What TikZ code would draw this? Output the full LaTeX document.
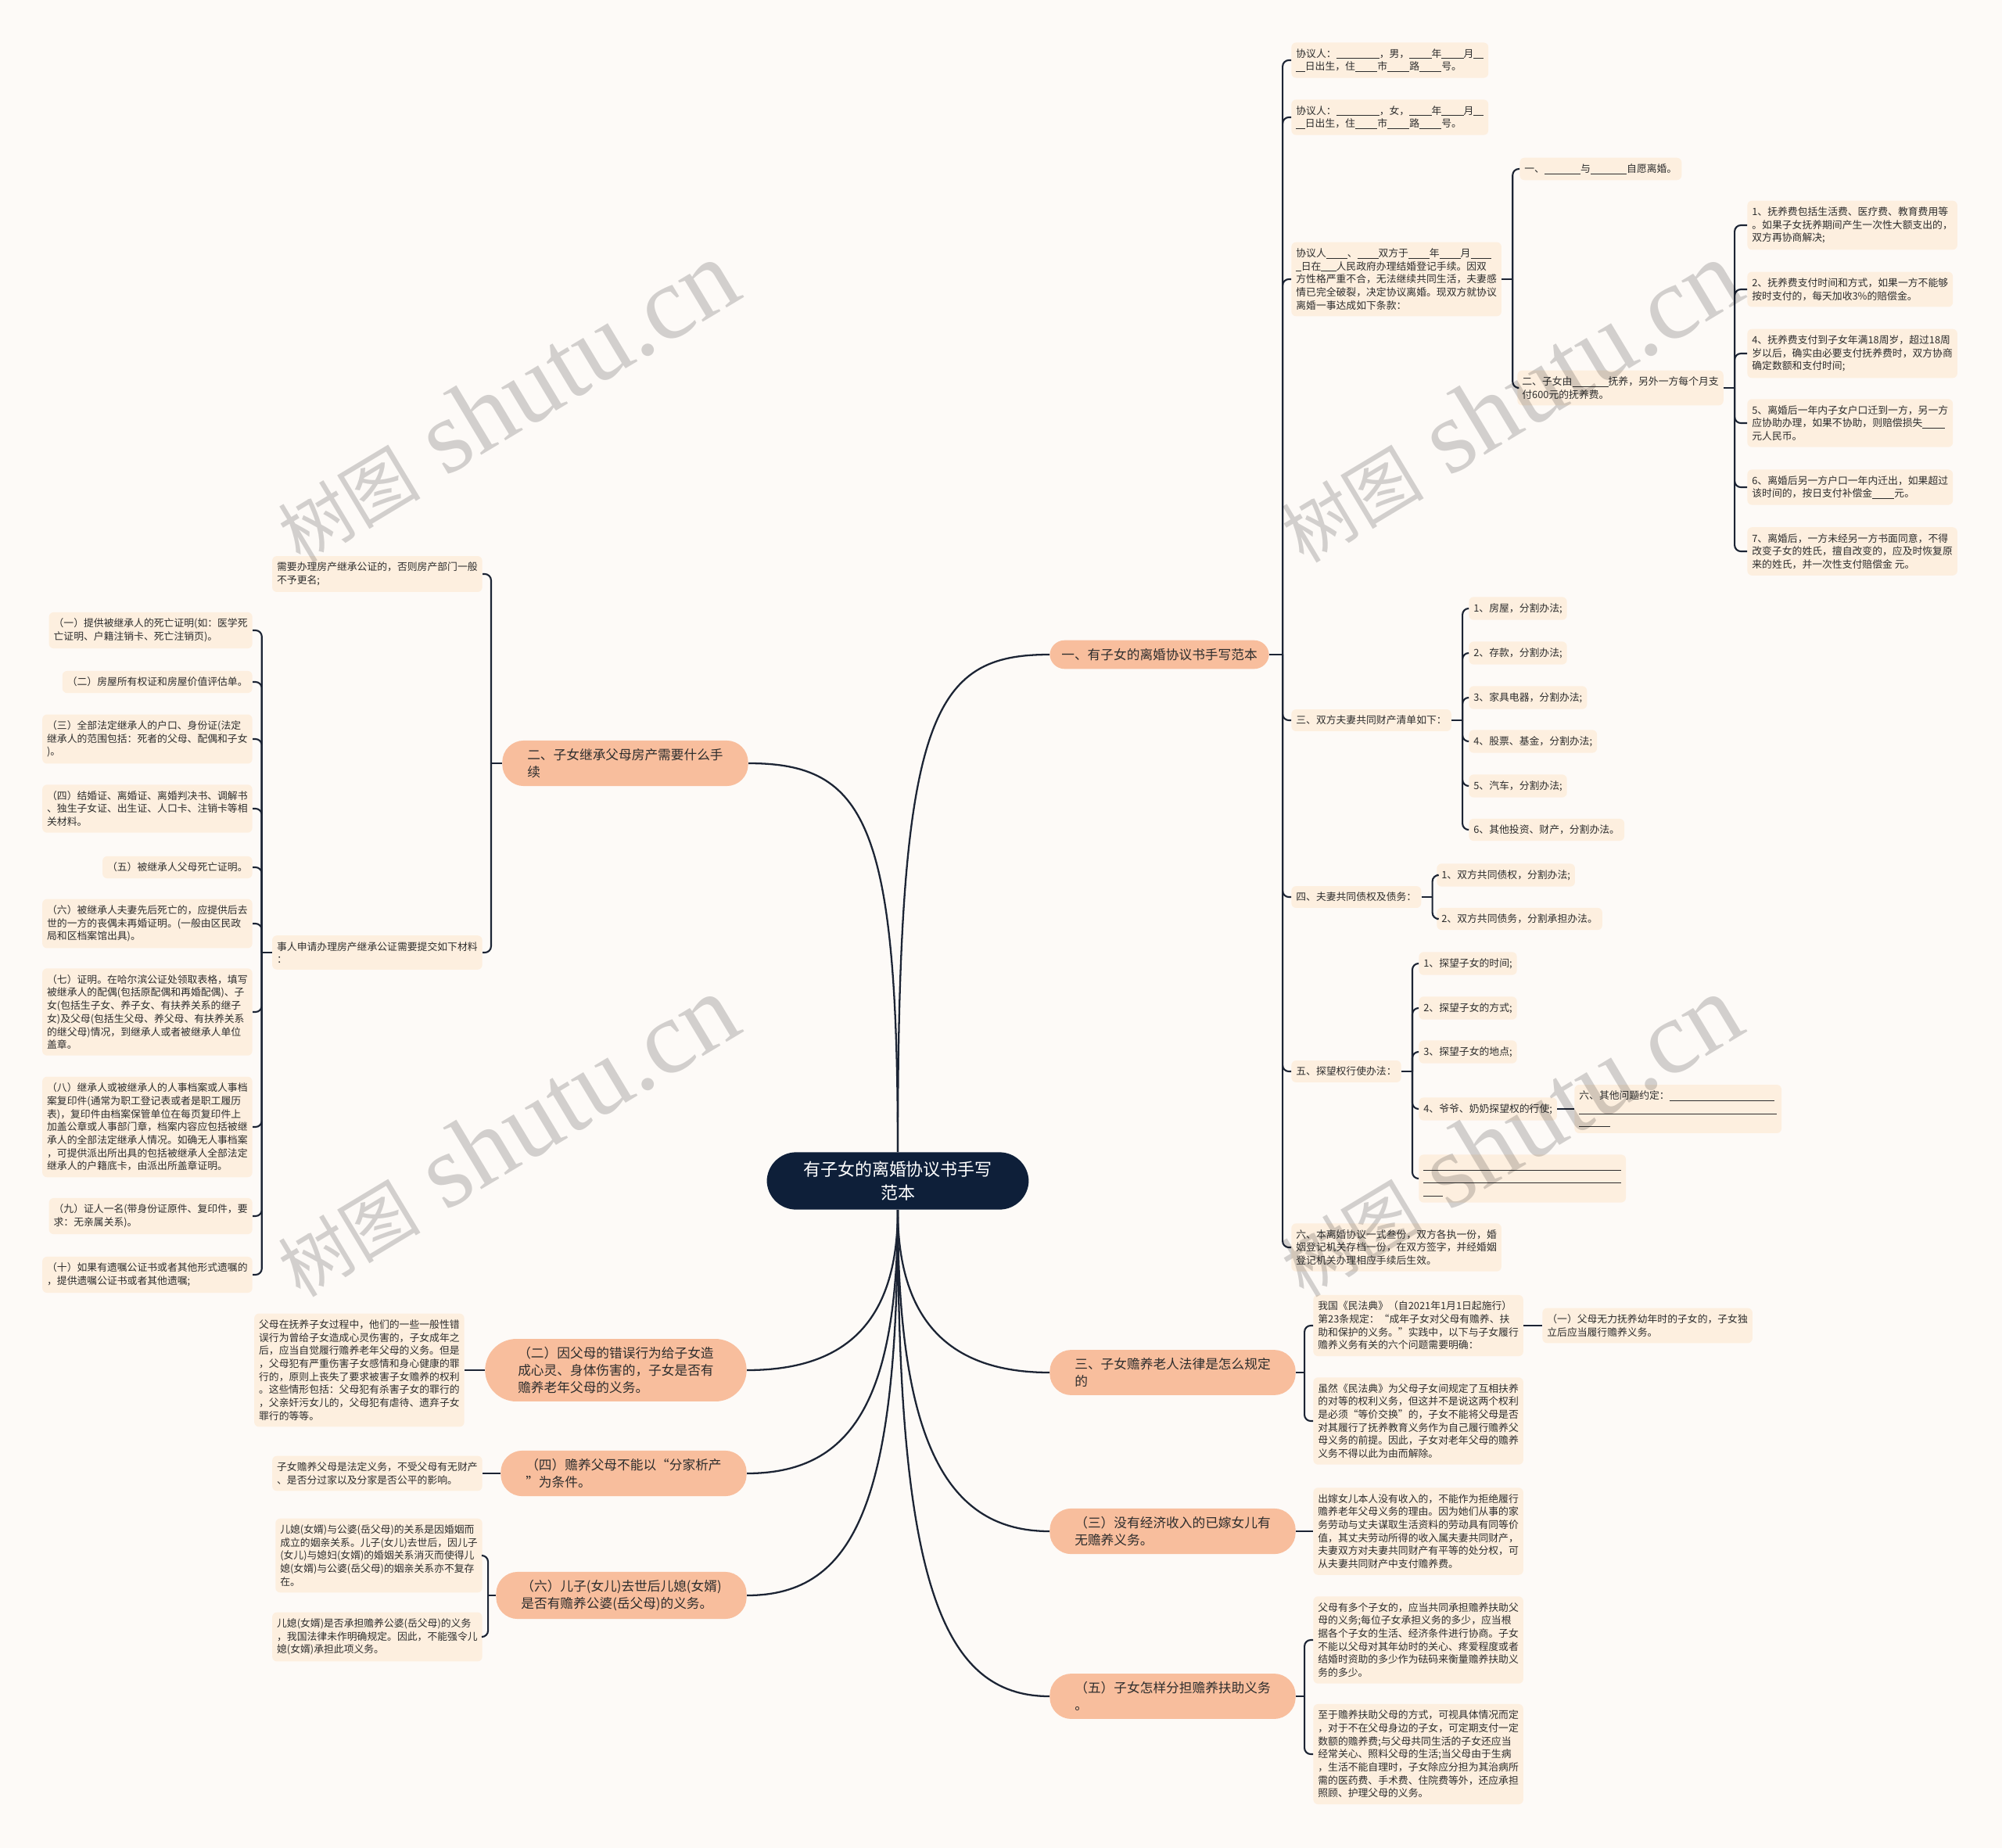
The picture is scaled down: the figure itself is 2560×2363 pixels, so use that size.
\documentclass[tikz,border=0pt]{standalone}
\usepackage{fontspec}
\newfontfamily\cjk{Noto Sans CJK SC}
\newfontfamily\wmserif{Liberation Serif}
\definecolor{bgpaper}{RGB}{253,250,247}
\definecolor{leafpeach}{RGB}{253,239,223}
\definecolor{branchsalmon}{RGB}{248,190,157}
\definecolor{rootnavy}{RGB}{14,31,57}
\definecolor{lineink}{RGB}{28,36,52}
\definecolor{leaftext}{RGB}{45,45,45}
\newcommand\leaffont{\cjk\fontsize{7.3pt}{9.5pt}\selectfont}
\newcommand\branchfont{\cjk\fontsize{9.5pt}{12.3pt}\selectfont}
\newcommand\rootfont{\cjk\fontsize{12.5pt}{17pt}\selectfont}
\newcommand\blank[1]{\vphantom{国}\rule[-0.13em]{#1em}{0.05em}}

\tikzset{
  root/.style={fill=rootnavy, text=white, rounded corners=0.75cm, minimum width=6.7cm,
    inner ysep=0.23cm, align=center, font=\rootfont},
  branch/.style={fill=branchsalmon, text=leaftext, rounded corners=0.55cm, inner xsep=0.64cm,
    inner ysep=0.21cm, align=left, font=\branchfont},
  leaf/.style={fill=leafpeach, text=leaftext, rounded corners=0.12cm, inner xsep=0.12cm,
    inner ysep=0.16cm, align=left, font=\leaffont},
  trunk/.style={draw=lineink, line width=1.3pt},
  link/.style={draw=lineink, line width=1.2pt, rounded corners=0.16cm},
  wmark/.style={text=black, text opacity=0.17, inner sep=0pt}
}

\begin{document}
\begin{tikzpicture}[x=0.02cm,y=-0.02cm]
  \useasboundingbox (0,0) rectangle (2560,2363);
  \fill[bgpaper] (0,0) rectangle (2560,2363);

  \node[root] (root) at (1148,1510) {有子女的离婚协议书手写\\范本};

  \node[branch, anchor=west, inner xsep=0.3cm, rounded corners=0.38cm] (b1) at (1342,837) {一、有子女的离婚协议书手写范本};
  \node[branch, anchor=west] (b3) at (1342,1755) {三、子女赡养老人法律是怎么规定\\的};
  \node[branch, anchor=west] (b3b) at (1342,1958) {（三）没有经济收入的已嫁女儿有\\无赡养义务。};
  \node[branch, anchor=west] (b5) at (1342,2169) {（五）子女怎样分担赡养扶助义务\\。};
  \node[branch, anchor=east] (b2) at (957,976) {二、子女继承父母房产需要什么手\\续};
  \node[branch, anchor=east, inner xsep=0.84cm, rounded corners=0.8cm] (b2b) at (955,1752) {（二）因父母的错误行为给子女造\\成心灵、身体伤害的，子女是否有\\赡养老年父母的义务。};
  \node[branch, anchor=east] (b4b) at (955,1884) {（四）赡养父母不能以“分家析产\\”为条件。};
  \node[branch, anchor=east] (b6) at (955,2040) {（六）儿子(女儿)去世后儿媳(女婿)\\是否有赡养公婆(岳父母)的义务。};

  \node[leaf, anchor=west] (c1) at (1651,77) {协议人：\blank{4.3}，男，\blank{2.2}年\blank{2.2}月\blank{1}\\\blank{0.9}日出生，住\blank{2.2}市\blank{2.2}路\blank{2.2}号。};
  \node[leaf, anchor=west] (c2) at (1651,150) {协议人：\blank{4.3}，女，\blank{2.2}年\blank{2.2}月\blank{1}\\\blank{0.9}日出生，住\blank{2.2}市\blank{2.2}路\blank{2.2}号。};
  \node[leaf, anchor=west] (c3) at (1651,357) {协议人\blank{2.1}、\blank{2.1}双方于\blank{2.1}年\blank{2.1}月\blank{2.1}\\\blank{0.5}日在\blank{1.5}人民政府办理结婚登记手续。因双\\方性格严重不合，无法继续共同生活，夫妻感\\情已完全破裂，决定协议离婚。现双方就协议\\离婚一事达成如下条款：};
  \node[leaf, anchor=west] (c3a) at (1943,216) {一、\blank{3.6}与\blank{3.6}自愿离婚。};
  \node[leaf, anchor=west] (c3b) at (1940,496) {二、子女由\blank{3.6}抚养，另外一方每个月支\\付600元的抚养费。};
  \node[leaf, anchor=west] (d1) at (2234,288) {1、抚养费包括生活费、医疗费、教育费用等\\。如果子女抚养期间产生一次性大额支出的，\\双方再协商解决;};
  \node[leaf, anchor=west] (d2) at (2234,370) {2、抚养费支付时间和方式，如果一方不能够\\按时支付的，每天加收3\%的赔偿金。};
  \node[leaf, anchor=west] (d3) at (2234,452) {4、抚养费支付到子女年满18周岁，超过18周\\岁以后，确实由必要支付抚养费时，双方协商\\确定数额和支付时间;};
  \node[leaf, anchor=west] (d4) at (2234,541) {5、离婚后一年内子女户口迁到一方，另一方\\应协助办理，如果不协助，则赔偿损失\blank{2.2}\\元人民币。};
  \node[leaf, anchor=west] (d5) at (2234,623) {6、离婚后另一方户口一年内迁出，如果超过\\该时间的，按日支付补偿金\blank{2.2}元。};
  \node[leaf, anchor=west] (d6) at (2234,705) {7、离婚后，一方未经另一方书面同意，不得\\改变子女的姓氏，擅自改变的，应及时恢复原\\来的姓氏，并一次性支付赔偿金 元。};
  \node[leaf, anchor=west] (c4) at (1651,921) {三、双方夫妻共同财产清单如下：};
  \node[leaf, anchor=west] (e1) at (1878,778) {1、房屋，分割办法;};
  \node[leaf, anchor=west] (e2) at (1878,835) {2、存款，分割办法;};
  \node[leaf, anchor=west] (e3) at (1878,892) {3、家具电器，分割办法;};
  \node[leaf, anchor=west] (e4) at (1878,948) {4、股票、基金，分割办法;};
  \node[leaf, anchor=west] (e5) at (1878,1005) {5、汽车，分割办法;};
  \node[leaf, anchor=west] (e6) at (1878,1061) {6、其他投资、财产，分割办法。};
  \node[leaf, anchor=west] (c5) at (1651,1147) {四、夫妻共同债权及债务：};
  \node[leaf, anchor=west] (f1) at (1837,1119) {1、双方共同债权，分割办法;};
  \node[leaf, anchor=west] (f2) at (1837,1175) {2、双方共同债务，分割承担办法。};
  \node[leaf, anchor=west] (c6) at (1651,1370) {五、探望权行使办法：};
  \node[leaf, anchor=west] (g1) at (1814,1232) {1、探望子女的时间;};
  \node[leaf, anchor=west] (g2) at (1814,1289) {2、探望子女的方式;};
  \node[leaf, anchor=west] (g3) at (1814,1345) {3、探望子女的地点;};
  \node[leaf, anchor=west] (g4) at (1814,1418) {4、爷爷、奶奶探望权的行使;};
  \node[leaf, anchor=west] (g4a) at (2013,1418) {六、其他问题约定：\blank{10.5}\\\blank{19.7}\\\blank{3.1}};
  \node[leaf, anchor=west] (g5) at (1814,1507) {\blank{19.7}\\\blank{19.7}\\\blank{1.9}};
  \node[leaf, anchor=west] (c7) at (1651,1595) {六、本离婚协议一式叁份，双方各执一份，婚\\姻登记机关存档一份，在双方签字，并经婚姻\\登记机关办理相应手续后生效。};

  \node[leaf, anchor=west] (h1) at (1679,1695) {我国《民法典》（自2021年1月1日起施行）\\第23条规定：“成年子女对父母有赡养、扶\\助和保护的义务。”实践中，以下与子女履行\\赡养义务有关的六个问题需要明确：};
  \node[leaf, anchor=west] (h1a) at (1972,1695) {（一）父母无力抚养幼年时的子女的，子女独\\立后应当履行赡养义务。};
  \node[leaf, anchor=west] (h2) at (1679,1817) {虽然《民法典》为父母子女间规定了互相扶养\\的对等的权利义务，但这并不是说这两个权利\\是必须“等价交换”的，子女不能将父母是否\\对其履行了抚养教育义务作为自己履行赡养父\\母义务的前提。因此，子女对老年父母的赡养\\义务不得以此为由而解除。};
  \node[leaf, anchor=west] (i1) at (1679,1958) {出嫁女儿本人没有收入的，不能作为拒绝履行\\赡养老年父母义务的理由。因为她们从事的家\\务劳动与丈夫谋取生活资料的劳动具有同等价\\值，其丈夫劳动所得的收入属夫妻共同财产，\\夫妻双方对夫妻共同财产有平等的处分权，可\\从夫妻共同财产中支付赡养费。};
  \node[leaf, anchor=west] (j1) at (1679,2097) {父母有多个子女的，应当共同承担赡养扶助父\\母的义务;每位子女承担义务的多少，应当根\\据各个子女的生活、经济条件进行协商。子女\\不能以父母对其年幼时的关心、疼爱程度或者\\结婚时资助的多少作为砝码来衡量赡养扶助义\\务的多少。};
  \node[leaf, anchor=west] (j2) at (1679,2243) {至于赡养扶助父母的方式，可视具体情况而定\\，对于不在父母身边的子女，可定期支付一定\\数额的赡养费;与父母共同生活的子女还应当\\经常关心、照料父母的生活;当父母由于生病\\，生活不能自理时，子女除应分担为其治病所\\需的医药费、手术费、住院费等外，还应承担\\照顾、护理父母的义务。};

  \node[leaf, anchor=east] (k1) at (617,734) {需要办理房产继承公证的，否则房产部门一般\\不予更名;};
  \node[leaf, anchor=east] (k2) at (617,1218) {事人申请办理房产继承公证需要提交如下材料\\：};
  \node[leaf, anchor=east] (l1) at (323,806) {（一）提供被继承人的死亡证明(如：医学死\\亡证明、户籍注销卡、死亡注销页)。};
  \node[leaf, anchor=east] (l2) at (323,872) {（二）房屋所有权证和房屋价值评估单。};
  \node[leaf, anchor=east] (l3) at (323,945) {（三）全部法定继承人的户口、身份证(法定\\继承人的范围包括：死者的父母、配偶和子女\\)。};
  \node[leaf, anchor=east] (l4) at (323,1034) {（四）结婚证、离婚证、离婚判决书、调解书\\、独生子女证、出生证、人口卡、注销卡等相\\关材料。};
  \node[leaf, anchor=east] (l5) at (323,1109) {（五）被继承人父母死亡证明。};
  \node[leaf, anchor=east] (l6) at (323,1181) {（六）被继承人夫妻先后死亡的，应提供后去\\世的一方的丧偶未再婚证明。(一般由区民政\\局和区档案馆出具)。};
  \node[leaf, anchor=east] (l7) at (323,1294) {（七）证明。在哈尔滨公证处领取表格，填写\\被继承人的配偶(包括原配偶和再婚配偶)、子\\女(包括生子女、养子女、有扶养关系的继子\\女)及父母(包括生父母、养父母、有扶养关系\\的继父母)情况，到继承人或者被继承人单位\\盖章。};
  \node[leaf, anchor=east] (l8) at (323,1441) {（八）继承人或被继承人的人事档案或人事档\\案复印件(通常为职工登记表或者是职工履历\\表)，复印件由档案保管单位在每页复印件上\\加盖公章或人事部门章，档案内容应包括被继\\承人的全部法定继承人情况。如确无人事档案\\，可提供派出所出具的包括被继承人全部法定\\继承人的户籍底卡，由派出所盖章证明。};
  \node[leaf, anchor=east] (l9) at (323,1555) {（九）证人一名(带身份证原件、复印件，要\\求：无亲属关系)。};
  \node[leaf, anchor=east] (l10) at (323,1630) {（十）如果有遗嘱公证书或者其他形式遗嘱的\\，提供遗嘱公证书或者其他遗嘱;};
  \node[leaf, anchor=east] (m1) at (594,1752) {父母在抚养子女过程中，他们的一些一般性错\\误行为曾给子女造成心灵伤害的，子女成年之\\后，应当自觉履行赡养老年父母的义务。但是\\，父母犯有严重伤害子女感情和身心健康的罪\\行的，原则上丧失了要求被害子女赡养的权利\\。这些情形包括：父母犯有杀害子女的罪行的\\，父亲奸污女儿的，父母犯有虐待、遗弃子女\\罪行的等等。};
  \node[leaf, anchor=east] (n1) at (617,1884) {子女赡养父母是法定义务，不受父母有无财产\\、是否分过家以及分家是否公平的影响。};
  \node[leaf, anchor=east] (o1) at (617,1989) {儿媳(女婿)与公婆(岳父母)的关系是因婚姻而\\成立的姻亲关系。儿子(女儿)去世后，因儿子\\(女儿)与媳妇(女婿)的婚姻关系消灭而使得儿\\媳(女婿)与公婆(岳父母)的姻亲关系亦不复存\\在。};
  \node[leaf, anchor=east] (o2) at (617,2093) {儿媳(女婿)是否承担赡养公婆(岳父母)的义务\\，我国法律未作明确规定。因此，不能强令儿\\媳(女婿)承担此项义务。};

  \draw[trunk] (root.north) .. controls +(0,-560) and +(-150,0) .. (b1.west);
  \draw[trunk] (root.north) .. controls +(0,-420) and +(150,0) .. (b2.east);
  \draw[trunk] (root.south) .. controls +(0,150) and +(-120,0) .. (b3.west);
  \draw[trunk] (root.south) .. controls +(0,300) and +(-130,0) .. (b3b.west);
  \draw[trunk] (root.south) .. controls +(0,470) and +(-140,0) .. (b5.west);
  \draw[trunk] (root.south) .. controls +(0,150) and +(120,0) .. (b2b.east);
  \draw[trunk] (root.south) .. controls +(0,250) and +(130,0) .. (b4b.east);
  \draw[trunk] (root.south) .. controls +(0,370) and +(140,0) .. (b6.east);

  \draw[link] (b1.east) -- ++(17,0) coordinate (s1);
  \draw[link] (s1) |- (c1.west);
  \draw[link] (s1) |- (c2.west);
  \draw[link] (s1) |- (c3.west);
  \draw[link] (s1) |- (c4.west);
  \draw[link] (s1) |- (c5.west);
  \draw[link] (s1) |- (c6.west);
  \draw[link] (s1) |- (c7.west);

  \draw[link] (c3.east) -- ++(14,0) coordinate (s3);
  \draw[link] (s3) |- (c3a.west);
  \draw[link] (s3) |- (c3b.west);
  \draw[link] (c3b.east) -- ++(14,0) coordinate (s3b);
  \draw[link] (s3b) |- (d1.west);
  \draw[link] (s3b) |- (d2.west);
  \draw[link] (s3b) |- (d3.west);
  \draw[link] (s3b) |- (d4.west);
  \draw[link] (s3b) |- (d5.west);
  \draw[link] (s3b) |- (d6.west);

  \draw[link] (c4.east) -- ++(14,0) coordinate (s4);
  \draw[link] (s4) |- (e1.west);
  \draw[link] (s4) |- (e2.west);
  \draw[link] (s4) |- (e3.west);
  \draw[link] (s4) |- (e4.west);
  \draw[link] (s4) |- (e5.west);
  \draw[link] (s4) |- (e6.west);

  \draw[link] (c5.east) -- ++(14,0) coordinate (s5);
  \draw[link] (s5) |- (f1.west);
  \draw[link] (s5) |- (f2.west);

  \draw[link] (c6.east) -- ++(14,0) coordinate (s6);
  \draw[link] (s6) |- (g1.west);
  \draw[link] (s6) |- (g2.west);
  \draw[link] (s6) |- (g3.west);
  \draw[link] (s6) |- (g4.west);
  \draw[link] (s6) |- (g5.west);
  \draw[link] (g4.east) -- (g4a.west);

  \draw[link] (b3.east) -- ++(11,0) coordinate (s7);
  \draw[link] (s7) |- (h1.west);
  \draw[link] (s7) |- (h2.west);
  \draw[link] (h1.east) -- (h1a.west);
  \draw[link] (b3b.east) -- (i1.west);
  \draw[link] (b5.east) -- ++(11,0) coordinate (s8);
  \draw[link] (s8) |- (j1.west);
  \draw[link] (s8) |- (j2.west);

  \draw[link] (b2.west) -- ++(-14,0) coordinate (s2);
  \draw[link] (s2) |- (k1.east);
  \draw[link] (s2) |- (k2.east);
  \draw[link] (k2.west) -- ++(-13,0) coordinate (s2k);
  \draw[link] (s2k) |- (l1.east);
  \draw[link] (s2k) |- (l2.east);
  \draw[link] (s2k) |- (l3.east);
  \draw[link] (s2k) |- (l4.east);
  \draw[link] (s2k) |- (l5.east);
  \draw[link] (s2k) |- (l6.east);
  \draw[link] (s2k) |- (l7.east);
  \draw[link] (s2k) |- (l8.east);
  \draw[link] (s2k) |- (l9.east);
  \draw[link] (s2k) |- (l10.east);

  \draw[link] (b2b.west) -- (m1.east);
  \draw[link] (b4b.west) -- (n1.east);
  \draw[link] (b6.west) -- ++(-10,0) coordinate (s9);
  \draw[link] (s9) |- (o1.east);
  \draw[link] (s9) |- (o2.east);

  \node[wmark, rotate=31] (wm1) at (647,514) {{\cjk\fontsize{52pt}{52pt}\selectfont 树图}{\wmserif\fontsize{76pt}{76pt}\selectfont\ shutu.cn}};
  \node[wmark, rotate=31] (wm2) at (1930,514) {{\cjk\fontsize{52pt}{52pt}\selectfont 树图}{\wmserif\fontsize{76pt}{76pt}\selectfont\ shutu.cn}};
  \node[wmark, rotate=31] (wm3) at (647,1453) {{\cjk\fontsize{52pt}{52pt}\selectfont 树图}{\wmserif\fontsize{76pt}{76pt}\selectfont\ shutu.cn}};
  \node[wmark, rotate=31] (wm4) at (1930,1453) {{\cjk\fontsize{52pt}{52pt}\selectfont 树图}{\wmserif\fontsize{76pt}{76pt}\selectfont\ shutu.cn}};
\end{tikzpicture}
\end{document}
